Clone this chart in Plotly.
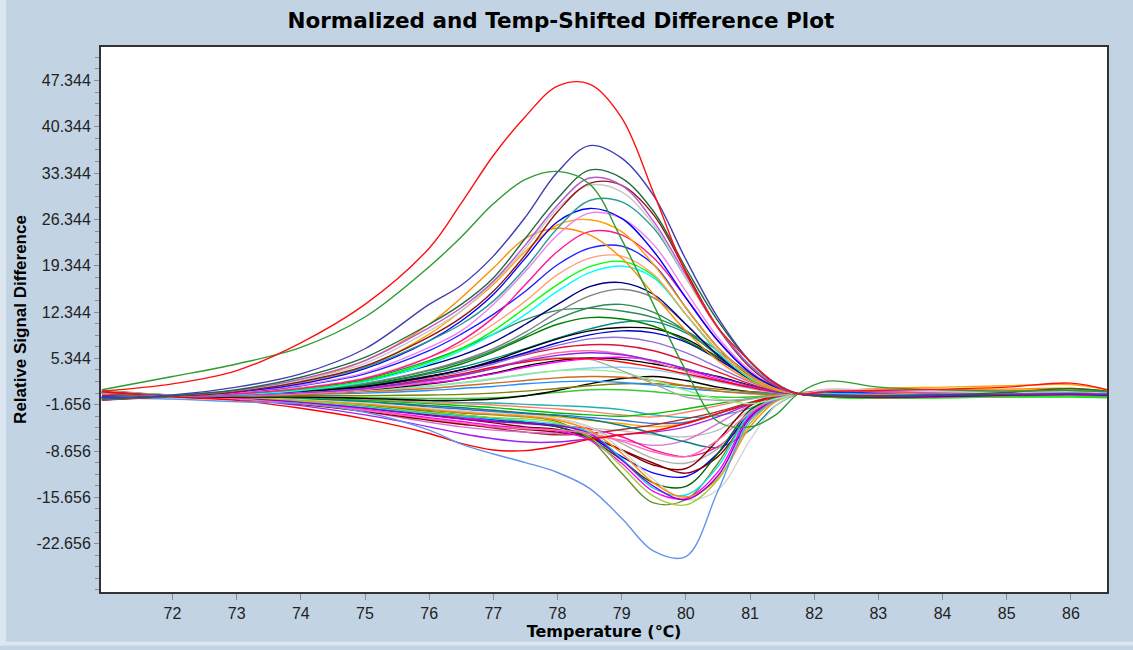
import plotly.graph_objects as go

# Temperature grid (°C) shared by every well trace
temperature = [70.9, 72, 73, 74, 75, 76, 76.5, 77, 77.5, 78, 78.5, 79, 79.5, 80,
               80.5, 81, 81.4, 81.75, 82.2, 83, 84, 85, 86, 86.56]

# Relative signal difference per well
well_a01 = [0.4, 1.5, 3.5, 7.7, 13.5, 22.0, 28.8, 36.0, 41.9, 46.5, 46.8, 41.7, 30.3, 18.3, 10.0, 4.9, 1.5, 0.0, 0.3, 0.5, 0.7, 1.0, 1.6, 0.6]
well_a02 = [0.6, 2.6, 4.5, 7.0, 11.6, 19.2, 23.7, 28.7, 32.4, 33.6, 31.7, 23.3, 13.4, 3.5, -4.2, -5.0, -3.2, 0.0, 1.9, 1.0, 0.6, 0.4, 0.5, 0.3]
well_a03 = [-0.6, -0.2, 1.0, 3.0, 6.8, 13.5, 16.4, 20.8, 26.7, 33.5, 37.5, 35.6, 29.9, 20.3, 11.5, 4.9, 1.6, 0.0, -0.2, -0.3, -0.2, -0.1, 0.0, -0.1]
well_a04 = [-0.8, -0.3, 0.6, 2.5, 5.5, 10.5, 13.5, 17.5, 23.5, 29.5, 33.8, 32.6, 27.5, 19.0, 11.0, 4.8, 1.5, 0.0, -0.3, -0.4, -0.2, 0.2, 0.8, 0.4]
well_a05 = [-0.9, -0.3, 0.5, 2.2, 5.0, 10.0, 13.0, 17.0, 22.5, 28.5, 32.6, 31.5, 26.0, 18.0, 10.0, 4.2, 1.3, 0.0, 0.4, 0.3, 0.1, 0.0, 0.1, 0.0]
well_a06 = [-1.0, -0.4, 0.3, 1.8, 4.2, 8.6, 11.5, 15.5, 21.0, 27.5, 31.8, 31.5, 27.0, 18.5, 10.0, 4.0, 1.2, 0.0, -0.4, -0.5, -0.3, -0.2, 0.0, -0.1]
well_a07 = [-0.7, -0.2, 0.5, 2.0, 4.6, 9.5, 12.5, 16.8, 22.0, 28.0, 31.5, 30.5, 25.5, 17.5, 9.8, 4.0, 1.2, 0.0, 0.6, 0.5, 0.3, 0.2, 0.3, 0.2]
well_a08 = [-0.6, -0.3, 0.4, 1.8, 4.0, 8.0, 10.5, 14.0, 19.0, 25.0, 29.2, 29.0, 25.0, 17.5, 10.0, 4.3, 1.3, 0.0, -0.2, -0.3, -0.1, 0.0, 0.2, 0.1]
well_a09 = [-0.5, -0.3, 0.3, 1.5, 3.8, 8.0, 11.0, 15.0, 20.5, 26.0, 28.0, 26.5, 21.5, 14.5, 8.0, 3.2, 1.0, 0.0, -0.3, -0.5, -0.4, -0.2, -0.1, -0.2]
well_a10 = [-0.8, -0.4, 0.2, 1.3, 3.2, 7.0, 9.5, 13.5, 18.5, 24.0, 27.3, 26.5, 22.5, 15.5, 8.5, 3.5, 1.0, 0.0, 0.5, 0.6, 0.4, 0.3, 0.2, 0.1]
well_a11 = [-0.7, -0.3, 0.4, 1.6, 4.0, 9.0, 12.5, 16.5, 21.5, 25.5, 26.3, 24.5, 19.5, 13.0, 7.0, 2.8, 0.8, 0.0, 0.3, 0.8, 1.0, 1.2, 1.4, 0.6]
well_a12 = [-0.9, -0.4, 0.5, 2.0, 5.0, 10.5, 14.5, 19.0, 23.5, 25.0, 24.0, 20.5, 15.0, 9.5, 5.0, 2.0, 0.6, 0.0, -0.2, -0.1, 0.2, 0.4, 0.6, 0.3]
well_b01 = [-0.6, -0.3, 0.0, 0.8, 2.3, 5.5, 8.0, 11.5, 16.5, 21.5, 24.5, 24.0, 20.5, 14.5, 8.0, 3.2, 0.9, 0.0, -0.4, -0.6, -0.5, -0.3, -0.2, -0.3]
well_b02 = [-0.7, -0.3, 0.2, 1.2, 3.0, 6.5, 9.0, 12.0, 15.5, 19.5, 22.0, 22.3, 19.5, 13.0, 7.0, 2.8, 0.8, 0.0, 0.2, 0.1, -0.1, -0.2, -0.1, -0.2]
well_b03 = [-0.5, -0.3, 0.1, 0.9, 2.4, 5.5, 7.5, 10.5, 14.0, 18.0, 20.5, 20.8, 18.0, 12.0, 6.5, 2.5, 0.7, 0.0, 0.3, 0.2, 0.1, 0.0, 0.1, 0.0]
well_b04 = [-0.6, -0.3, 0.0, 0.7, 2.0, 4.8, 6.8, 9.5, 13.0, 16.5, 19.2, 20.0, 17.8, 12.0, 6.5, 2.4, 0.6, 0.0, -0.5, -0.7, -0.6, -0.5, -0.4, -0.5]
well_b05 = [-0.7, -0.3, -0.1, 0.5, 1.8, 4.5, 6.5, 9.0, 12.0, 15.5, 18.3, 19.3, 17.5, 12.0, 6.3, 2.3, 0.6, 0.0, 0.1, 0.0, -0.1, -0.3, -0.2, -0.3]
well_b06 = [-0.8, -0.3, 0.1, 0.8, 2.0, 4.3, 5.8, 7.8, 10.5, 13.5, 16.2, 16.8, 15.0, 10.5, 5.8, 2.2, 0.6, 0.0, -0.2, -0.3, -0.2, -0.2, -0.1, -0.2]
well_b07 = [-0.6, -0.3, 0.0, 0.6, 1.6, 3.6, 5.0, 6.8, 9.3, 12.3, 14.8, 15.8, 14.5, 10.5, 5.8, 2.2, 0.6, 0.0, 0.2, 0.2, 0.1, 0.1, 0.2, 0.1]
well_b08 = [-0.5, -0.3, 0.0, 0.6, 1.5, 3.5, 4.8, 6.5, 8.8, 11.3, 13.0, 13.5, 12.3, 9.5, 5.8, 2.5, 0.7, 0.0, 0.0, -0.1, -0.1, 0.0, 0.1, 0.0]
well_b09 = [-0.7, -0.3, 0.0, 0.5, 1.4, 3.2, 4.5, 6.3, 8.5, 10.5, 11.5, 11.3, 10.2, 8.0, 5.5, 2.8, 0.9, 0.0, -0.3, -0.4, -0.3, -0.2, -0.1, -0.2]
well_b10 = [-0.6, -0.3, 0.0, 0.4, 1.1, 2.6, 3.6, 5.0, 6.7, 8.3, 9.5, 10.0, 9.8, 8.3, 5.5, 2.4, 0.7, 0.0, 0.1, 0.0, -0.1, -0.1, 0.0, -0.1]
well_b11 = [-0.5, -0.2, 0.2, 0.9, 2.2, 5.0, 6.8, 9.0, 11.2, 12.6, 12.9, 12.5, 11.5, 9.5, 6.5, 3.0, 0.9, 0.0, -0.1, -0.2, -0.2, -0.1, 0.0, -0.1]
well_b12 = [-0.6, -0.3, 0.0, 0.5, 1.3, 3.0, 4.0, 5.3, 6.8, 8.4, 9.8, 10.8, 10.9, 9.2, 6.0, 2.6, 0.7, 0.0, -0.1, -0.2, -0.1, 0.0, 0.0, -0.1]
well_c01 = [-0.7, -0.3, -0.1, 0.4, 1.1, 2.6, 3.6, 4.8, 6.2, 7.7, 8.9, 9.5, 9.2, 7.8, 5.2, 2.3, 0.6, 0.0, 0.0, -0.1, -0.1, 0.0, 0.0, 0.0]
well_c02 = [-0.8, -0.4, -0.2, 0.3, 1.0, 2.4, 3.3, 4.5, 6.0, 7.3, 8.3, 8.5, 7.8, 6.2, 4.0, 1.8, 0.5, 0.0, 0.2, 0.1, 0.0, -0.1, 0.0, -0.1]
well_c03 = [-0.6, -0.3, -0.1, 0.4, 1.2, 2.7, 3.6, 4.7, 5.9, 6.9, 7.4, 7.3, 6.5, 5.0, 3.3, 1.5, 0.4, 0.0, -0.3, -0.2, -0.1, 0.1, 0.4, 0.1]
well_c04 = [-0.9, -0.4, -0.2, 0.2, 0.8, 2.0, 2.8, 3.8, 5.0, 5.8, 6.2, 5.9, 5.0, 3.8, 2.5, 1.2, 0.3, 0.0, 0.2, 0.3, 0.1, 0.0, 0.1, 0.0]
well_c05 = [-0.3, -0.3, -0.1, 0.3, 0.9, 2.2, 3.0, 4.0, 4.8, 5.3, 5.3, 4.8, 4.0, 3.0, 2.0, 1.0, 0.3, 0.0, -0.3, -0.2, 0.0, 0.3, 0.6, 0.2]
well_c06 = [-0.8, -0.4, -0.3, 0.0, 0.6, 1.8, 2.7, 3.8, 5.2, 6.2, 6.5, 6.0, 4.8, 3.4, 2.0, 0.9, 0.2, 0.0, -0.4, -0.5, -0.5, -0.4, -0.3, -0.4]
well_c07 = [-0.7, -0.3, -0.2, 0.2, 0.7, 1.6, 2.2, 3.0, 4.0, 4.8, 5.3, 5.5, 5.0, 3.7, 2.2, 1.0, 0.3, 0.0, 0.3, 0.1, 0.0, -0.1, 0.0, -0.1]
well_c08 = [-0.6, -0.4, -0.3, 0.1, 0.6, 1.5, 2.2, 3.1, 4.2, 5.0, 5.4, 5.2, 4.5, 3.6, 2.6, 1.3, 0.4, 0.0, -0.1, -0.2, -0.2, -0.1, 0.0, -0.1]
well_c09 = [-0.5, -0.3, -0.1, 0.2, 0.8, 2.0, 2.9, 4.0, 5.0, 5.4, 5.2, 3.5, 1.5, -0.5, -1.0, -0.8, -0.3, 0.0, 0.2, 0.1, 0.0, 0.0, 0.0, 0.0]
well_c10 = [-0.6, -0.3, -0.2, 0.1, 0.5, 1.2, 1.7, 2.3, 3.0, 3.5, 3.6, 3.2, 2.0, 0.5, -0.8, -1.5, -0.8, 0.0, 0.2, 0.1, 0.0, 0.0, 0.0, 0.0]
well_c11 = [-0.7, -0.4, -0.3, -0.1, 0.3, 0.8, 1.2, 1.6, 2.0, 2.4, 2.6, 2.5, 2.0, 1.2, 0.4, 0.0, -0.1, 0.0, -0.4, -0.3, -0.2, -0.1, 0.2, 0.0]
well_c12 = [-0.5, -0.3, -0.2, -0.1, 0.1, 0.5, 0.8, 1.1, 1.5, 1.8, 1.9, 1.7, 1.3, 0.8, 0.4, 0.1, 0.0, 0.0, -0.2, -0.2, -0.1, -0.1, 0.0, -0.1]
well_d01 = [-0.5, -0.3, -0.2, 0.0, 0.4, 1.1, 1.6, 2.2, 2.9, 3.5, 3.9, 4.0, 3.6, 2.8, 1.8, 0.8, 0.2, 0.0, -0.2, -0.3, -0.3, -0.2, -0.2, -0.3]
well_d02 = [-0.8, -0.4, -0.4, -0.3, -0.3, -0.2, -0.1, 0.1, 0.4, 0.8, 1.2, 1.5, 1.5, 1.2, 0.7, 0.3, 0.1, 0.0, 0.3, 0.2, 0.1, 0.1, 0.2, 0.1]
well_d03 = [-0.7, -0.4, -0.5, -0.5, -0.7, -1.0, -1.0, -0.8, -0.3, 0.5, 1.5, 2.3, 2.6, 2.0, 1.0, 0.3, 0.1, 0.0, -0.1, -0.2, -0.1, 0.0, 0.0, 0.0]
well_d04 = [-0.4, -0.3, -0.4, -0.5, -0.6, -0.7, -0.7, -0.6, -0.3, 0.2, 0.6, 0.6, 0.3, -0.2, -0.5, -0.5, -0.2, 0.0, -0.5, -0.6, -0.6, -0.5, -0.5, -0.6]
well_d05 = [-0.6, -0.8, -1.2, -1.5, -2.8, -5.5, -7.6, -9.1, -10.4, -11.9, -14.3, -18.8, -23.8, -24.6, -14.7, -4.0, -1.0, 0.0, -0.3, -0.4, -0.3, -0.2, -0.1, -0.2]
well_d06 = [0.3, -0.5, -1.0, -2.2, -3.8, -6.0, -7.5, -8.5, -8.6, -7.9, -6.9, -6.2, -5.6, -4.5, -3.0, -1.5, -0.4, 0.0, 0.4, 0.5, 0.3, 0.4, 0.6, 0.3]
well_d07 = [0.2, -0.4, -0.8, -1.5, -2.5, -3.8, -4.4, -5.0, -5.3, -5.5, -6.0, -7.2, -8.8, -9.5, -7.0, -2.8, -0.8, 0.0, 0.2, 0.3, 0.2, 0.1, 0.0, 0.1]
well_d08 = [0.3, -0.3, -0.7, -1.3, -2.2, -3.3, -3.8, -4.2, -4.4, -4.8, -6.0, -10.0, -14.0, -16.0, -12.4, -3.6, -0.8, 0.0, 0.3, 0.2, 0.1, 0.0, 0.1, 0.0]
well_d09 = [0.4, -0.2, -0.6, -1.1, -1.8, -2.8, -3.2, -3.6, -3.8, -4.4, -6.5, -11.0, -15.5, -16.8, -13.0, -4.5, -1.0, 0.0, 0.1, 0.0, -0.1, -0.1, 0.0, -0.1]
well_d10 = [0.2, -0.3, -0.6, -1.0, -1.6, -2.4, -2.8, -3.1, -3.4, -4.0, -5.5, -9.0, -13.5, -15.6, -12.8, -5.0, -1.2, 0.0, 0.4, 0.5, 0.6, 0.7, 0.8, 0.4]
well_d11 = [0.3, -0.2, -0.5, -0.9, -1.4, -2.2, -2.6, -3.0, -3.3, -3.8, -5.0, -8.5, -13.0, -16.0, -14.5, -7.0, -1.8, 0.0, 0.2, 0.2, 0.1, 0.1, 0.1, 0.1]
well_d12 = [0.1, -0.3, -0.6, -1.2, -2.0, -3.0, -3.4, -3.8, -4.1, -4.6, -5.8, -9.8, -14.3, -15.3, -11.0, -3.0, -0.7, 0.0, -0.2, -0.3, -0.2, -0.2, -0.1, -0.2]
well_e01 = [0.2, -0.3, -0.7, -1.4, -2.4, -3.6, -4.2, -4.8, -5.2, -5.6, -7.0, -10.5, -14.8, -15.8, -11.8, -3.3, -0.8, 0.0, 0.1, 0.0, 0.0, -0.1, 0.0, 0.0]
well_e02 = [0.5, -0.2, -0.5, -1.0, -1.6, -2.5, -2.9, -3.2, -3.5, -4.2, -6.8, -12.0, -16.5, -16.0, -10.5, -3.0, -0.7, 0.0, -0.1, -0.2, -0.1, -0.1, 0.0, -0.1]
well_e03 = [0.3, -0.3, -0.6, -1.2, -2.0, -3.2, -3.8, -4.4, -5.0, -5.4, -6.5, -8.5, -10.8, -11.3, -7.0, -1.8, -0.4, 0.0, 0.1, 0.0, -0.1, -0.1, 0.0, -0.1]
well_e04 = [0.2, -0.4, -0.8, -1.6, -2.7, -4.0, -4.6, -5.0, -5.4, -5.8, -6.6, -8.5, -10.5, -12.0, -9.5, -3.5, -0.9, 0.0, 0.2, 0.1, 0.0, 0.0, 0.1, 0.0]
well_e05 = [0.1, -0.4, -0.7, -1.2, -1.9, -2.9, -3.4, -3.9, -4.4, -5.0, -6.5, -9.5, -12.0, -12.5, -9.0, -3.0, -0.7, 0.0, -0.3, -0.4, -0.3, -0.2, -0.2, -0.3]
well_e06 = [0.2, -0.3, -0.6, -1.0, -1.5, -2.2, -2.6, -3.0, -3.3, -3.8, -5.0, -7.5, -9.8, -10.5, -8.3, -3.0, -0.7, 0.0, 0.1, 0.1, 0.0, 0.0, 0.1, 0.0]
well_e07 = [0.3, -0.3, -0.7, -1.3, -2.1, -3.1, -3.6, -4.1, -4.5, -4.8, -5.3, -6.5, -8.5, -9.5, -8.0, -3.8, -1.0, 0.0, -0.2, -0.3, -0.3, -0.2, -0.2, -0.3]
well_e08 = [0.1, -0.3, -0.5, -0.8, -1.2, -1.8, -2.1, -2.5, -2.9, -3.3, -3.9, -4.8, -6.0, -7.3, -8.1, -5.5, -1.8, 0.0, 0.2, 0.1, 0.0, 0.0, 0.0, 0.0]
well_e09 = [0.4, -0.3, -0.8, -1.8, -3.2, -5.0, -6.0, -6.8, -7.3, -7.3, -6.8, -6.2, -5.8, -5.0, -3.5, -1.6, -0.4, 0.0, 0.4, 0.3, 0.2, 0.1, 0.2, 0.1]
well_e10 = [0.2, -0.3, -0.7, -1.5, -2.7, -4.3, -5.0, -5.5, -5.8, -6.0, -6.3, -7.0, -7.8, -7.0, -4.5, -1.8, -0.5, 0.0, 0.0, -0.1, -0.1, 0.0, 0.0, 0.0]
well_e11 = [0.3, -0.4, -0.8, -1.5, -2.5, -3.8, -4.5, -5.2, -5.8, -6.2, -6.0, -5.4, -4.7, -3.8, -2.7, -1.3, -0.3, 0.0, -0.2, -0.2, -0.1, 0.0, 0.0, -0.1]
well_e12 = [0.4, -0.2, -0.5, -1.0, -1.8, -3.0, -3.6, -4.2, -4.6, -4.9, -5.2, -5.6, -6.2, -6.5, -5.5, -2.5, -0.6, 0.0, 0.7, 0.5, 0.3, 0.2, 0.2, 0.1]
well_f01 = [0.0, -0.3, -0.5, -0.9, -1.3, -2.0, -2.3, -2.7, -3.0, -3.2, -3.6, -4.0, -4.5, -4.3, -3.0, -1.4, -0.4, 0.0, 0.1, 0.1, 0.0, 0.0, 0.0, 0.0]
well_f02 = [0.1, -0.3, -0.4, -0.7, -1.0, -1.5, -1.8, -2.1, -2.5, -2.9, -3.2, -3.4, -3.0, -2.3, -1.5, -0.7, -0.2, 0.0, -0.5, -0.6, -0.5, -0.4, -0.3, -0.4]
well_f03 = [0.2, -0.3, -0.5, -0.8, -1.2, -1.8, -2.1, -2.5, -3.0, -3.5, -4.0, -4.5, -5.0, -4.5, -3.0, -1.5, -0.4, 0.0, 0.5, 0.5, 0.4, 0.3, 0.4, 0.2]
well_f04 = [0.0, -0.3, -0.4, -0.6, -0.9, -1.3, -1.5, -1.7, -2.0, -2.3, -2.7, -3.2, -3.5, -2.8, -1.8, -0.8, -0.2, 0.0, -0.4, -0.5, -0.4, -0.3, -0.3, -0.4]
well_f05 = [0.2, -0.3, -0.4, -0.6, -0.8, -1.1, -1.3, -1.4, -1.6, -1.8, -2.0, -2.4, -3.2, -3.6, -3.3, -2.2, -0.6, 0.0, 0.1, 0.0, -0.1, -0.1, 0.0, -0.1]
well_f06 = [0.4, -0.2, -0.5, -1.0, -1.7, -2.7, -3.2, -3.7, -4.3, -5.0, -6.8, -10.0, -13.5, -14.0, -9.0, -2.5, -0.6, 0.0, 0.0, -0.1, -0.1, 0.0, 0.1, 0.0]

# Trace colours, in drawing order
wells = [
    (well_f05, "#20B2AA"), (well_f04, "#FA8072"), (well_f03, "#FFA500"), (well_f02, "#00C000"),
    (well_f01, "#4169E1"), (well_e12, "#C0C0C0"), (well_e11, "#A52A2A"), (well_e10, "#DA70D6"),
    (well_e09, "#A020F0"), (well_e08, "#008080"), (well_e07, "#FF1493"), (well_e06, "#B0B0B0"),
    (well_e05, "#0000FF"), (well_e04, "#8B0000"), (well_e03, "#800000"), (well_f06, "#006400"),
    (well_e02, "#6B8E23"), (well_e01, "#FF00FF"), (well_d12, "#00E5EE"), (well_d11, "#D3D3D3"),
    (well_d10, "#FF8C00"), (well_d09, "#9ACD32"), (well_d08, "#9400D3"), (well_d07, "#FF6EB4"),
    (well_d06, "#FF0000"), (well_d05, "#6495ED"),
    (well_d04, "#32CD32"), (well_d03, "#000000"), (well_d02, "#808000"), (well_d01, "#87CEFA"),
    (well_c12, "#1E90FF"), (well_c11, "#D2691E"), (well_c10, "#90EE90"), (well_c09, "#A9A9A9"),
    (well_c08, "#000000"), (well_c07, "#FF00FF"), (well_c06, "#FF69B4"), (well_c05, "#FF0000"),
    (well_c04, "#8A2BE2"), (well_c03, "#DC143C"), (well_c02, "#9370DB"), (well_c01, "#0000CD"),
    (well_b12, "#008B8B"), (well_b11, "#2E8B57"), (well_b10, "#000000"), (well_b09, "#008000"),
    (well_b08, "#2E8B57"), (well_b07, "#808080"), (well_b06, "#000080"), (well_b05, "#00FFFF"),
    (well_b04, "#00FF00"), (well_b03, "#FFA07A"), (well_b02, "#1F1FFF"), (well_b01, "#FF1493"),
    (well_a12, "#FF8C00"), (well_a11, "#FFA500"), (well_a10, "#EE82EE"), (well_a09, "#0000FF"),
    (well_a08, "#2A9D8F"), (well_a07, "#C8C8C8"), (well_a06, "#8B1A1A"), (well_a05, "#BA55D3"),
    (well_a04, "#1E6B3A"), (well_a03, "#3F3FAF"), (well_a02, "#2E9B2E"), (well_a01, "#FF1010"),
]

y_ticks = [-22.656, -15.656, -8.656, -1.656, 5.344, 12.344, 19.344, 26.344, 33.344, 40.344, 47.344]
x_ticks = [72, 73, 74, 75, 76, 77, 78, 79, 80, 81, 82, 83, 84, 85, 86]

fig = go.Figure()
for values, colour in wells:
    fig.add_trace(go.Scatter(
        x=temperature, y=values, mode="lines",
        line=dict(color=colour, width=1.4, shape="spline", smoothing=1.0),
        showlegend=False, hoverinfo="skip",
    ))

tick_font = dict(family="Arial, Liberation Sans, sans-serif", size=16, color="#222222")

# Lighter window frame along the left and bottom edges of the figure
frame = "#DCE6F0"
fig.add_shape(type="rect", xref="paper", yref="paper",
              x0=-101 / 1006, x1=-95 / 1006, y0=-54 / 549, y1=603 / 549,
              fillcolor=frame, line_width=0, layer="below")
fig.add_shape(type="rect", xref="paper", yref="paper",
              x0=-101 / 1006, x1=1032 / 1006, y0=-54 / 549, y1=-50 / 549,
              fillcolor=frame, line_width=0, layer="below")

fig.update_layout(
    width=1133, height=650,
    paper_bgcolor="#C2D4E4", plot_bgcolor="#FFFFFF",
    margin=dict(l=101, r=26, t=47, b=54),
    title=dict(
        text="<b>Normalized and Temp-Shifted Difference Plot</b>",
        font=dict(family="DejaVu Sans, Verdana, sans-serif", size=21.5, color="#000000"),
        x=0.495, xref="container", xanchor="center",
        y=1 - 20 / 650, yref="container", yanchor="middle",
    ),
    xaxis=dict(
        range=[70.886, 86.563], tickmode="array", tickvals=x_ticks,
        ticktext=[str(t) for t in x_ticks],
        ticks="outside", ticklen=6, tickcolor="#8C8C8C", tickwidth=1,
        showgrid=False, zeroline=False,
        showline=True, linecolor="#333333", linewidth=2, mirror=True,
        tickfont=tick_font,
        title=dict(text="<b>Temperature (℃)</b>",
                   font=dict(family="DejaVu Sans, Verdana, sans-serif", size=16, color="#000000"),
                   standoff=5),
    ),
    yaxis=dict(
        range=[-29.96, 52.40], tickmode="array", tickvals=y_ticks,
        ticktext=[f"{t:.3f}" for t in y_ticks],
        ticks="outside", ticklen=5, tickcolor="#8C8C8C", tickwidth=1,
        minor=dict(tickmode="linear", tick0=-1.656, dtick=1.75, ticks="outside",
                   ticklen=4, tickcolor="#8C8C8C", showgrid=False),
        showgrid=False, zeroline=False,
        showline=True, linecolor="#333333", linewidth=2, mirror=True,
        tickfont=tick_font,
        title=dict(text="<b>Relative Signal Difference</b>",
                   font=dict(family="Arial, Liberation Sans, sans-serif", size=17, color="#000000"),
                   standoff=6),
    ),
)

fig.write_html("out.html")
